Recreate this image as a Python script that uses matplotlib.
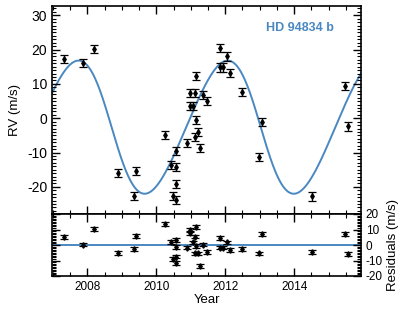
import numpy as np
import matplotlib
matplotlib.use("Agg")
import matplotlib.pyplot as plt
from matplotlib.ticker import MultipleLocator

plt.rcParams['font.family'] = ['Liberation Sans', 'DejaVu Sans']
plt.rcParams['axes.unicode_minus'] = False

# ---- data ----
t_obs = [2007.31, 2007.87, 2008.20, 2008.89, 2009.35, 2009.42, 2010.25,
         2010.42, 2010.58, 2010.58, 2010.58, 2010.49, 2010.58,
         2010.88, 2010.97, 2010.99, 2011.05, 2011.12, 2011.14, 2011.14,
         2011.12, 2011.21, 2011.28, 2011.36, 2011.47,
         2011.84, 2011.86, 2011.92, 2012.05, 2012.13, 2012.49,
         2012.98, 2013.07, 2014.51, 2015.49, 2015.55]
rv = [17.3, 16.0, 20.2, -16.0, -22.6, -15.3, -4.9,
      -13.6, -9.5, -14.1, -19.2, -22.6, -23.8,
      -7.3, 3.6, 7.3, 3.6, 7.3, 12.3, -0.5,
      -5.4, -3.9, -8.7, 6.8, 5.0,
      14.8, 20.4, 14.8, 18.0, 13.1, 7.6,
      -11.2, -1.2, -22.8, 9.5, -2.4]
resid = [5.2, 0.3, 10.2, -5.0, -2.7, 5.6, 13.4,
         2.1, 3.2, -1.5, -7.5, -9.2, -11.4,
         -1.7, 7.7, 9.8, 1.7, 5.4, 11.5, -0.6,
         -5.4, -5.4, -13.5, 0.3, -4.3,
         -1.7, 4.3, -1.7, 1.7, -3.3, -2.6,
         -5.4, 7.1, -4.3, 7.1, -6.0]
rv_err = [1.2] * len(t_obs)
year_ticks = [2008, 2010, 2012, 2014]

# Keplerian model parameters (fit shown in the figure)
period = 4.33      # years
K_amp = 19.4       # m/s
ecc = 0.09
omega = np.pi / 2
t_peri = 2008.70
gamma = -2.6

planet_label = "HD 94834 b"
blue = "#4a88c2"

def kepler_rv(t):
    M = 2 * np.pi * (t - t_peri) / period
    E = M.copy()
    for _ in range(50):
        E = E - (E - ecc * np.sin(E) - M) / (1 - ecc * np.cos(E))
    nu = 2 * np.arctan2(np.sqrt(1 + ecc) * np.sin(E / 2),
                        np.sqrt(1 - ecc) * np.cos(E / 2))
    return gamma + K_amp * (np.cos(nu + omega) + ecc * np.cos(omega))

fig = plt.figure(figsize=(4.15, 3.12), dpi=100)
L, R = 52 / 415, 361 / 415
ax = fig.add_axes([L, 1 - 214 / 312, R - L, (214 - 6) / 312])
axr = fig.add_axes([L, 1 - 276 / 312, R - L, (276 - 214) / 312], sharex=ax)

x0, x1 = 2006.97, 2015.94
tt = np.linspace(x0, x1, 800)
ax.plot(tt, kepler_rv(tt), color=blue, lw=1.4, zorder=1)
ax.errorbar(t_obs, rv, yerr=rv_err, fmt='d', color='black', ms=2.8,
            elinewidth=0.9, capsize=3.2, capthick=0.9, zorder=3)
ax.set_xlim(x0, x1)
ax.set_ylim(-27.9, 32.7)
ax.set_ylabel("RV (m/s)", fontsize=9.5, labelpad=4)
ax.text(0.803, 0.895, planet_label, transform=ax.transAxes, color=blue,
        fontsize=9, fontweight='bold', ha='center', va='center')

axr.axhline(0, color=blue, lw=1.4, zorder=1)
axr.errorbar(t_obs, resid, yerr=rv_err, fmt='d', color='black', ms=2.8,
             elinewidth=0.9, capsize=3.2, capthick=0.9, zorder=3)
axr.set_ylim(-20, 20)
axr.set_xlabel("Year", fontsize=9.5, labelpad=1)
axr.yaxis.set_label_position('right')
axr.set_ylabel("Residuals (m/s)", fontsize=9.5, labelpad=3)

for a in (ax, axr):
    for s in a.spines.values():
        s.set_linewidth(1.2)
    a.set_xticks(year_ticks)
    a.xaxis.set_minor_locator(MultipleLocator(0.5))
    a.tick_params(which='both', direction='in', top=True, right=True,
                  labelsize=8.5)
    a.tick_params(which='major', length=6, width=1.0)
    a.tick_params(which='minor', length=3, width=0.8)

ax.yaxis.set_major_locator(MultipleLocator(10))
ax.yaxis.set_minor_locator(MultipleLocator(1))
ax.tick_params(axis='y', labelsize=10)
ax.tick_params(labelbottom=False)
axr.yaxis.set_major_locator(MultipleLocator(10))
axr.yaxis.set_minor_locator(MultipleLocator(1))
axr.tick_params(labelleft=False, labelright=True)

fig.savefig("out.png", dpi=100)
